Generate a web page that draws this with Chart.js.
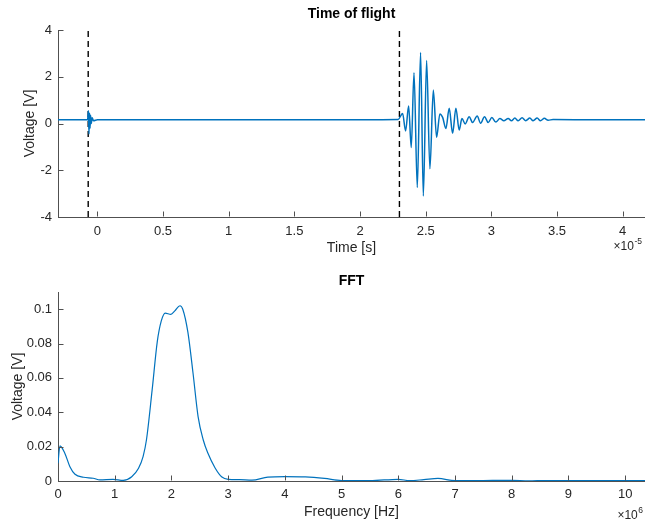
<!DOCTYPE html>
<html>
<head>
<meta charset="utf-8">
<script src="https://cdn.jsdelivr.net/npm/chart.js@4.4.0/dist/chart.umd.min.js"></script>
<style>
  html, body { margin: 0; padding: 0; background: #fff; }
  #wrap { position: relative; width: 645px; height: 523px; overflow: hidden; }
  canvas { position: absolute; left: 0; }
  #tof { top: 0; width: 645px; height: 262px; }
  #fft { top: 262px; width: 645px; height: 261px; }
</style>
</head>
<body>
<div id="wrap">
  <canvas id="tof" width="645" height="262"></canvas>
  <canvas id="fft" width="645" height="261"></canvas>
</div>
<script>
// Time of flight trace, time in units of 1e-5 s
const tofTime = [-0.3, -0.075, -0.068, -0.064, -0.06, -0.056, -0.052, -0.047, -0.04, -0.03, 0, 0.5, 1, 1.5, 2, 2.29,
  2.324, 2.347, 2.370, 2.390, 2.411, 2.436, 2.461, 2.482, 2.507, 2.532, 2.558, 2.583, 2.608, 2.629, 2.654, 2.679,
  2.705, 2.730, 2.755, 2.776, 2.801, 2.831, 2.857, 2.892, 2.918, 2.948, 2.976, 3.004, 3.034, 3.065, 3.095, 3.128,
  3.153, 3.179, 3.204, 3.234, 3.262, 3.293, 3.318, 3.349, 3.374, 3.404, 3.432, 3.47, 3.8, 4.17];
const tofVolt = [0.16, 0.16, 0.55, -0.45, 0.45, -0.2, 0.35, 0.0, 0.25, 0.12, 0.16, 0.16, 0.16, 0.16, 0.16, 0.17,
  0.43, -0.32, 0.75, -1.03, 2.17, -2.74, 3.04, -3.1, 2.69, -1.94, 1.43, -0.59, 0.41, 0.26, -0.21, 0.65,
  -0.42, 0.65, -0.28, 0.21, -0.02, 0.29, 0.04, 0.32, 0.01, 0.29, 0.04, 0.26, 0.06, 0.21, 0.12, 0.21,
  0.12, 0.23, 0.12, 0.25, 0.12, 0.23, 0.12, 0.23, 0.12, 0.22, 0.14, 0.17, 0.16, 0.16];
// dashed markers (trigger / first arrival)
const markerTimes = [-0.07, 2.3];
const tofXTicks = [0, 0.5, 1, 1.5, 2, 2.5, 3, 3.5, 4];
const tofYTicks = [-4, -2, 0, 2, 4];

// FFT magnitude, frequency in units of 1e6 Hz
const fftFreq = [0, 0.035, 0.12, 0.21, 0.3, 0.45, 0.62, 0.74, 0.97, 1.15, 1.3, 1.42, 1.5, 1.56, 1.66, 1.75, 1.82,
  1.89, 1.99, 2.06, 2.15, 2.2, 2.29, 2.38, 2.47, 2.56, 2.64, 2.77, 2.89, 3.0, 3.2, 3.42, 3.7, 4.0, 4.36, 4.7, 5.0,
  5.5, 6.0, 6.2, 6.45, 6.7, 7.0, 7.5, 8.0, 8.3, 8.6, 9.0, 9.5, 10.35];
const fftVolt = [0.0104, 0.0205, 0.0162, 0.0083, 0.0039, 0.0022, 0.0016, 0.0006, 0.001, 0.0004, 0.0025, 0.0074,
  0.0142, 0.024, 0.053, 0.081, 0.093, 0.0977, 0.097, 0.099, 0.102, 0.1, 0.0866, 0.063, 0.0375, 0.024, 0.0164,
  0.0076, 0.0023, 0.001, 0.0008, 0.0005, 0.0023, 0.0026, 0.0024, 0.0015, 0.0003, 0.0002, 0.001, 0.0002, 0.0008,
  0.0015, 0.0002, 0.0003, 0.0004, 0.0001, 0.0003, 0.0003, 0.0002, 0.0003];
const fftXTicks = [0, 1, 2, 3, 4, 5, 6, 7, 8, 9, 10];
const fftYTicks = [0, 0.02, 0.04, 0.06, 0.08, 0.1];

const lineBlue = '#0072BD';
const axisColor = '#505050';
const textColor = '#262626';
const family = '"Liberation Sans", Arial, Helvetica, sans-serif';

const toPoints = (xs, ys) => xs.map((x, i) => ({ x: x, y: ys[i] }));

// MATLAB style: inward tick marks + the "x10^n" exponent under the axis
const matlabAxes = {
  id: 'matlabAxes',
  afterDraw(chart, args, opts) {
    const { ctx, chartArea } = chart;
    const xs = chart.scales.x, ys = chart.scales.y;
    const left = Math.round(chartArea.left) + 0.5;
    const bottom = Math.round(chartArea.bottom) - 0.5;
    ctx.save();
    ctx.strokeStyle = axisColor;
    ctx.lineWidth = 1;
    ctx.beginPath();
    xs.ticks.forEach(t => {
      const px = Math.round(xs.getPixelForValue(t.value)) + 0.5;
      ctx.moveTo(px, bottom);
      ctx.lineTo(px, bottom - 5);
    });
    ys.ticks.forEach(t => {
      const py = Math.round(ys.getPixelForValue(t.value)) + 0.5;
      ctx.moveTo(left, py);
      ctx.lineTo(left + 5, py);
    });
    ctx.stroke();

    // exponent, right-aligned to opts.right
    ctx.fillStyle = textColor;
    ctx.textBaseline = 'alphabetic';
    ctx.textAlign = 'left';
    const base = chartArea.bottom + opts.dy;
    ctx.font = '12px ' + family;
    const w1 = ctx.measureText('\u00d710').width;
    ctx.font = '8.5px ' + family;
    const w2 = ctx.measureText(opts.power).width;
    const x0 = opts.right - w1 - w2 - 0.5;
    ctx.font = '12px ' + family;
    ctx.fillText('\u00d710', x0, base);
    ctx.font = '8.5px ' + family;
    ctx.fillText(opts.power, x0 + w1 + 0.5, base - 6);
    ctx.restore();
  }
};

function makeChart(id, cfg) {
  return new Chart(document.getElementById(id), {
    type: 'line',
    data: { datasets: cfg.datasets },
    options: {
      responsive: false,
      animation: false,
      devicePixelRatio: 1,
      events: [],
      layout: { padding: 0 },
      plugins: {
        legend: { display: false },
        tooltip: { enabled: false },
        title: {
          display: true,
          text: cfg.title,
          fullSize: false,
          color: '#000',
          font: { family: family, size: 14, weight: 'bold' },
          padding: cfg.titlePad
        },
        matlabAxes: cfg.exponent
      },
      scales: {
        x: {
          type: 'linear',
          min: cfg.xMin,
          max: cfg.xMax,
          afterBuildTicks: s => { s.ticks = cfg.xTicks.map(v => ({ value: v })); },
          afterFit: s => { s.height = cfg.xHeight; },
          grid: { display: false, drawTicks: false },
          border: { display: true, color: axisColor, width: 1 },
          ticks: {
            color: textColor, font: { family: family, size: 13 }, padding: cfg.xTickPad,
            maxRotation: 0, autoSkip: false, callback: v => String(v)
          },
          title: {
            display: true, text: cfg.xTitle, color: textColor,
            font: { family: family, size: 14 }, padding: { top: 0, bottom: cfg.xTitlePad }
          }
        },
        y: {
          type: 'linear',
          min: cfg.yMin,
          max: cfg.yMax,
          afterBuildTicks: s => { s.ticks = cfg.yTicks.map(v => ({ value: v })); },
          afterFit: s => { s.width = 58; },
          grid: { display: false, drawTicks: false },
          border: { display: true, color: axisColor, width: 1 },
          ticks: {
            color: textColor, font: { family: family, size: 13 }, padding: 6,
            autoSkip: false, callback: v => String(v)
          },
          title: {
            display: true, text: 'Voltage [V]', color: textColor,
            font: { family: family, size: 14 }, padding: { top: cfg.yTitlePad, bottom: 0 }
          }
        }
      }
    },
    plugins: [matlabAxes]
  });
}

const tofSets = [{
  data: toPoints(tofTime, tofVolt),
  borderColor: lineBlue,
  borderWidth: 1.5,
  pointRadius: 0,
  cubicInterpolationMode: 'monotone',
  fill: false
}];
markerTimes.forEach(t => {
  tofSets.push({
    data: [{ x: t, y: -4 }, { x: t, y: 4 }],
    borderColor: '#000',
    borderWidth: 1.4,
    borderDash: [6, 4],
    pointRadius: 0,
    fill: false
  });
});

makeChart('tof', {
  datasets: tofSets,
  title: 'Time of flight',
  titlePad: { top: 5.6, bottom: 7.6 },
  xMin: -0.3, xMax: 4.17, xTicks: tofXTicks, xHeight: 45, xTickPad: 7, xTitle: 'Time [s]', xTitlePad: 5.6,
  yMin: -4, yMax: 4, yTicks: tofYTicks, yTitlePad: 22,
  exponent: { right: 642, dy: 33, power: '-5' }
});

makeChart('fft', {
  datasets: [{
    data: toPoints(fftFreq, fftVolt),
    borderColor: lineBlue,
    borderWidth: 1.2,
    pointRadius: 0,
    cubicInterpolationMode: 'monotone',
    fill: false
  }],
  title: 'FFT',
  titlePad: { top: 10.6, bottom: 2.6 },
  xMin: 0, xMax: 10.35, xTicks: fftXTicks, xHeight: 42, xTickPad: 6, xTitle: 'Frequency [Hz]', xTitlePad: 2.6,
  yMin: 0, yMax: 0.11, yTicks: fftYTicks, yTitlePad: 10,
  exponent: { right: 643, dy: 37.5, power: '6' }
});
</script>
</body>
</html>
